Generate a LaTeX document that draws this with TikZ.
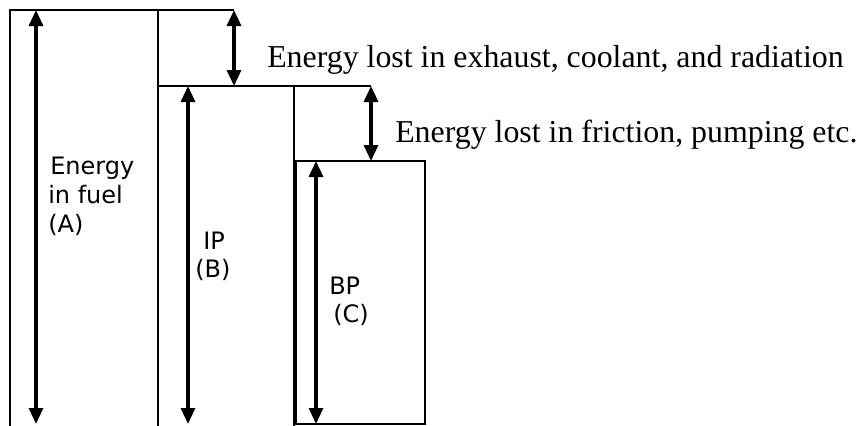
\documentclass[tikz,border=0pt]{standalone}
\usepackage{fontspec}
\setmainfont{Liberation Serif}
\newfontfamily\vfont{DejaVu Sans}
\usetikzlibrary{arrows.meta}
\begin{document}
\begin{tikzpicture}[x=0.75pt,y=-0.75pt,
  frame/.style={line width=1.6pt},
  dim/.style={line width=2.4pt,{Triangle[length=12pt,width=10.5pt]}-{Triangle[length=12pt,width=10.5pt]}},
  serif/.style={font=\fontsize{23.9}{28}\selectfont, inner sep=0pt, anchor=base west},
  sans/.style={font=\vfont\fontsize{18}{21}\selectfont, inner sep=0pt, anchor=base west}]
\useasboundingbox (0,0) rectangle (860,425);
% frame coordinates
\coordinate (a0) at (10,430);
\coordinate (a1) at (10,10);
\coordinate (a2) at (234,10);
\coordinate (b0) at (158,10);
\coordinate (b1) at (158,430);
\coordinate (b2) at (158,86);
\coordinate (b3) at (371,86);
\coordinate (c0) at (294,86);
\coordinate (c1) at (294,430);
\coordinate (d0) at (296,161);
\coordinate (d1) at (425,424);
\draw[frame] (a0) -- (a1) -- (a2);
\draw[frame] (b0) -- (b1);
\draw[frame] (b2) -- (b3);
\draw[frame] (c0) -- (c1);
\draw[frame] (d0) rectangle (d1);
% arrows
\coordinate (pa0) at (36,10);
\coordinate (pa1) at (36,424);
\coordinate (pl0) at (234,10);
\coordinate (pl1) at (234,86);
\coordinate (pb0) at (188,86);
\coordinate (pb1) at (188,424);
\coordinate (pm0) at (371,86);
\coordinate (pm1) at (371,161);
\coordinate (pc0) at (316,161);
\coordinate (pc1) at (316,424);
\draw[dim] (pa0) -- (pa1);
\draw[dim] (pl0) -- (pl1);
\draw[dim] (pb0) -- (pb1);
\draw[dim] (pm0) -- (pm1);
\draw[dim] (pc0) -- (pc1);
% texts
\node[serif] (t1) at (267,67) {Energy lost in exhaust, coolant, and radiation};
\node[serif] (t2) at (395,142) {Energy lost in friction, pumping etc.};
\node[sans] (e1) at (50,174) {Energy};
\node[sans] (e2) at (48,203) {in fuel};
\node[sans] (e3) at (48,232) {(A)};
\node[sans] (i1) at (203,249) {IP};
\node[sans] (i2) at (195,277) {(B)};
\node[sans] (p1) at (329,294) {BP};
\node[sans] (p2) at (333,322) {(C)};
\end{tikzpicture}
\end{document}
